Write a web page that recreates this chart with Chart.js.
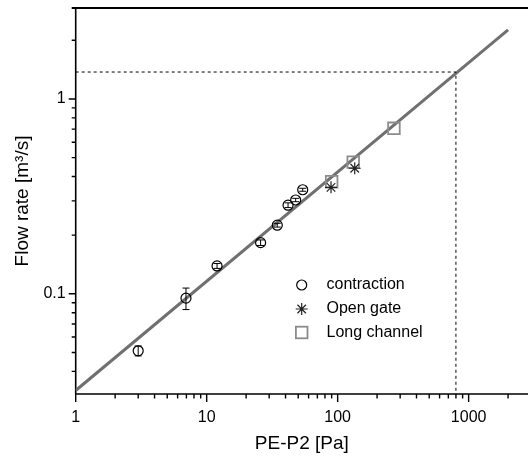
<!DOCTYPE html>
<html><head><meta charset="utf-8">
<script src="https://cdn.jsdelivr.net/npm/chart.js@4.4.1/dist/chart.umd.min.js"></script>
<style>html,body{margin:0;padding:0;background:#fff}#wrap{width:528px;height:456px;position:relative}</style>
</head><body><div id="wrap"><canvas id="c" width="528" height="456"></canvas></div>
<script>
// ---- data ----
const seriesNames = ['contraction', 'Open gate', 'Long channel'];
const contractionX = [3.0, 6.95, 12.0, 25.8, 34.6, 41.8, 47.8, 54.1];
const contractionY = [0.051, 0.095, 0.139, 0.183, 0.225, 0.285, 0.303, 0.342];
const contractionErrLow  = [0.048, 0.083, 0.135, 0.177, 0.220, 0.277, 0.297, 0.336];
const contractionErrHigh = [0.054, 0.107, 0.143, 0.189, 0.230, 0.293, 0.309, 0.348];
const openGateX = [89, 135];
const openGateY = [0.352, 0.441];
const longChannelX = [90, 131.5, 269];
const longChannelY = [0.376, 0.474, 0.707];
const fitX = [1, 2000];
const fitY = [0.0319, 2.26];
const guideX = [1, 800, 800];
const guideY = [1.375, 1.375, 0.02];
const xTickLabels = ['1', '10', '100', '1000'];
const yTickLabels = ['0.1', '1'];
const xAxisTitle = 'PE-P2 [Pa]';
const yAxisTitle = 'Flow rate [m\u00B3/s]';

const FONT = '"Liberation Sans", Arial, sans-serif';
const pts = (xs, ys) => xs.map((v, i) => ({x: v, y: ys[i]}));

function logTicks(lo, hi) {
  const out = [];
  for (let e = Math.floor(Math.log10(lo)); e <= Math.ceil(Math.log10(hi)); e++) {
    for (let m = 1; m <= 9; m++) {
      const v = parseFloat((m * Math.pow(10, e)).toPrecision(6));
      if (v >= lo * 0.9999 && v <= hi * 1.0001) out.push(v);
    }
  }
  return out;
}
const isDecade = v => Math.abs(Math.log10(v) - Math.round(Math.log10(v))) < 1e-9;
const labelFor = (list, v) => list.find(l => Math.abs(parseFloat(l) - v) < 1e-9 * v) || '';

const X_MIN = 1, X_MAX = 2840, Y_MIN = 0.0306, Y_MAX = 2.93;

const axisPlugin = {
  id: 'axisLines',
  beforeDatasetsDraw(chart) {
    const {ctx, chartArea: a, scales: {x, y}} = chart;
    ctx.save();
    ctx.strokeStyle = '#000';
    ctx.lineWidth = 1.6;
    ctx.beginPath();
    ctx.moveTo(a.left, a.top); ctx.lineTo(a.left, a.bottom); ctx.lineTo(a.right, a.bottom);
    ctx.stroke();
    ctx.lineWidth = 2;
    ctx.beginPath(); ctx.moveTo(a.left - 4, a.top); ctx.lineTo(a.right, a.top); ctx.stroke();
    ctx.lineWidth = 1.4;
    ctx.beginPath();
    x.ticks.forEach(t => {
      const p = x.getPixelForValue(t.value);
      const len = isDecade(t.value) ? 8 : 4.5;
      ctx.moveTo(p, a.bottom); ctx.lineTo(p, a.bottom + len);
    });
    y.ticks.forEach(t => {
      const p = y.getPixelForValue(t.value);
      const len = isDecade(t.value) ? 7 : 4;
      ctx.moveTo(a.left, p); ctx.lineTo(a.left - len, p);
    });
    ctx.stroke();
    ctx.restore();
  },
  afterDatasetsDraw(chart) {
    const {ctx, scales: {x, y}} = chart;
    ctx.save();
    ctx.strokeStyle = '#000';
    ctx.lineWidth = 1;
    ctx.beginPath();
    contractionX.forEach((v, i) => {
      const px = x.getPixelForValue(v);
      const lo = y.getPixelForValue(contractionErrLow[i]);
      const hi = y.getPixelForValue(contractionErrHigh[i]);
      ctx.moveTo(px, lo); ctx.lineTo(px, hi);
      ctx.moveTo(px - 3.5, lo); ctx.lineTo(px + 3.5, lo);
      ctx.moveTo(px - 3.5, hi); ctx.lineTo(px + 3.5, hi);
    });
    ctx.stroke();
    ctx.restore();
  },
  afterDraw(chart) {
    const {ctx} = chart;
    ctx.save();
    const lx = 301.7, tx = 326.5, ys = [285, 309, 332.5];
    ctx.strokeStyle = '#000'; ctx.lineWidth = 1.2;
    ctx.beginPath(); ctx.arc(lx, ys[0], 5, 0, Math.PI * 2); ctx.stroke();
    ctx.strokeStyle = '#222'; ctx.lineWidth = 1.2;
    ctx.beginPath();
    for (let k = 0; k < 4; k++) {
      const ang = k * Math.PI / 4;
      const dx = Math.cos(ang) * 6, dy = Math.sin(ang) * 6;
      ctx.moveTo(lx - dx, ys[1] - dy); ctx.lineTo(lx + dx, ys[1] + dy);
    }
    ctx.stroke();
    ctx.strokeStyle = '#8c8c8c'; ctx.lineWidth = 1.8;
    ctx.strokeRect(lx - 5.8, ys[2] - 5.8, 11.6, 11.6);
    ctx.fillStyle = '#000';
    ctx.font = '16px ' + FONT;
    ctx.textBaseline = 'middle';
    ctx.textAlign = 'left';
    seriesNames.forEach((n, i) => ctx.fillText(n, tx, ys[i]));
    ctx.restore();
  }
};

new Chart(document.getElementById('c'), {
  type: 'scatter',
  data: {
    datasets: [
      {label: seriesNames[0], data: pts(contractionX, contractionY), pointStyle: 'circle', pointRadius: 5,
       borderColor: '#000', backgroundColor: 'rgba(0,0,0,0)', borderWidth: 1.2, pointHoverRadius: 5},
      {label: seriesNames[1], data: pts(openGateX, openGateY), pointStyle: 'star', pointRadius: 6,
       borderColor: '#222', backgroundColor: 'rgba(0,0,0,0)', borderWidth: 1.2},
      {label: seriesNames[2], data: pts(longChannelX, longChannelY), pointStyle: 'rect', pointRadius: 8.2,
       borderColor: '#8c8c8c', backgroundColor: 'rgba(0,0,0,0)', borderWidth: 1.8},
      {label: 'guide', type: 'line', data: pts(guideX, guideY), borderColor: '#000', borderWidth: 1,
       borderDash: [3, 3], pointRadius: 0, fill: false, tension: 0},
      {label: 'fit', type: 'line', data: pts(fitX, fitY), borderColor: '#707070', borderWidth: 3,
       pointRadius: 0, fill: false, tension: 0}
    ]
  },
  options: {
    responsive: false,
    animation: false,
    devicePixelRatio: 1,
    layout: {autoPadding: false, padding: {top: 8, right: 0, left: 0, bottom: 0}},
    plugins: {legend: {display: false}, tooltip: {enabled: false}},
    scales: {
      x: {
        type: 'logarithmic', min: X_MIN, max: X_MAX, position: 'bottom',
        grid: {display: false, drawTicks: false}, border: {display: false},
        afterBuildTicks: s => { s.ticks = logTicks(X_MIN, X_MAX).map(v => ({value: v, major: isDecade(v)})); },
        afterFit: s => { s.height = 62; s.paddingLeft = 0; s.paddingRight = 0; s.paddingTop = 0; s.paddingBottom = 0; },
        ticks: {autoSkip: false, maxRotation: 0, minRotation: 0, padding: 14, color: '#000',
                font: {family: FONT, size: 16}, callback: v => labelFor(xTickLabels, v)},
        title: {display: true, text: xAxisTitle, color: '#000', font: {family: FONT, size: 19},
                padding: {top: 0, bottom: 1}}
      },
      y: {
        type: 'logarithmic', min: Y_MIN, max: Y_MAX, position: 'left',
        grid: {display: false, drawTicks: false}, border: {display: false},
        afterBuildTicks: s => { s.ticks = logTicks(Y_MIN, Y_MAX).map(v => ({value: v, major: isDecade(v)})); },
        afterFit: s => { s.width = 75.7; s.paddingTop = 0; s.paddingBottom = 0; s.paddingLeft = 0; s.paddingRight = 0; },
        ticks: {autoSkip: false, padding: 10, color: '#000',
                font: {family: FONT, size: 16}, callback: v => labelFor(yTickLabels, v)},
        title: {display: true, text: yAxisTitle, color: '#000', font: {family: FONT, size: 19},
                padding: {top: 11, bottom: 0}}
      }
    }
  },
  plugins: [axisPlugin]
});
</script>
</body></html>
